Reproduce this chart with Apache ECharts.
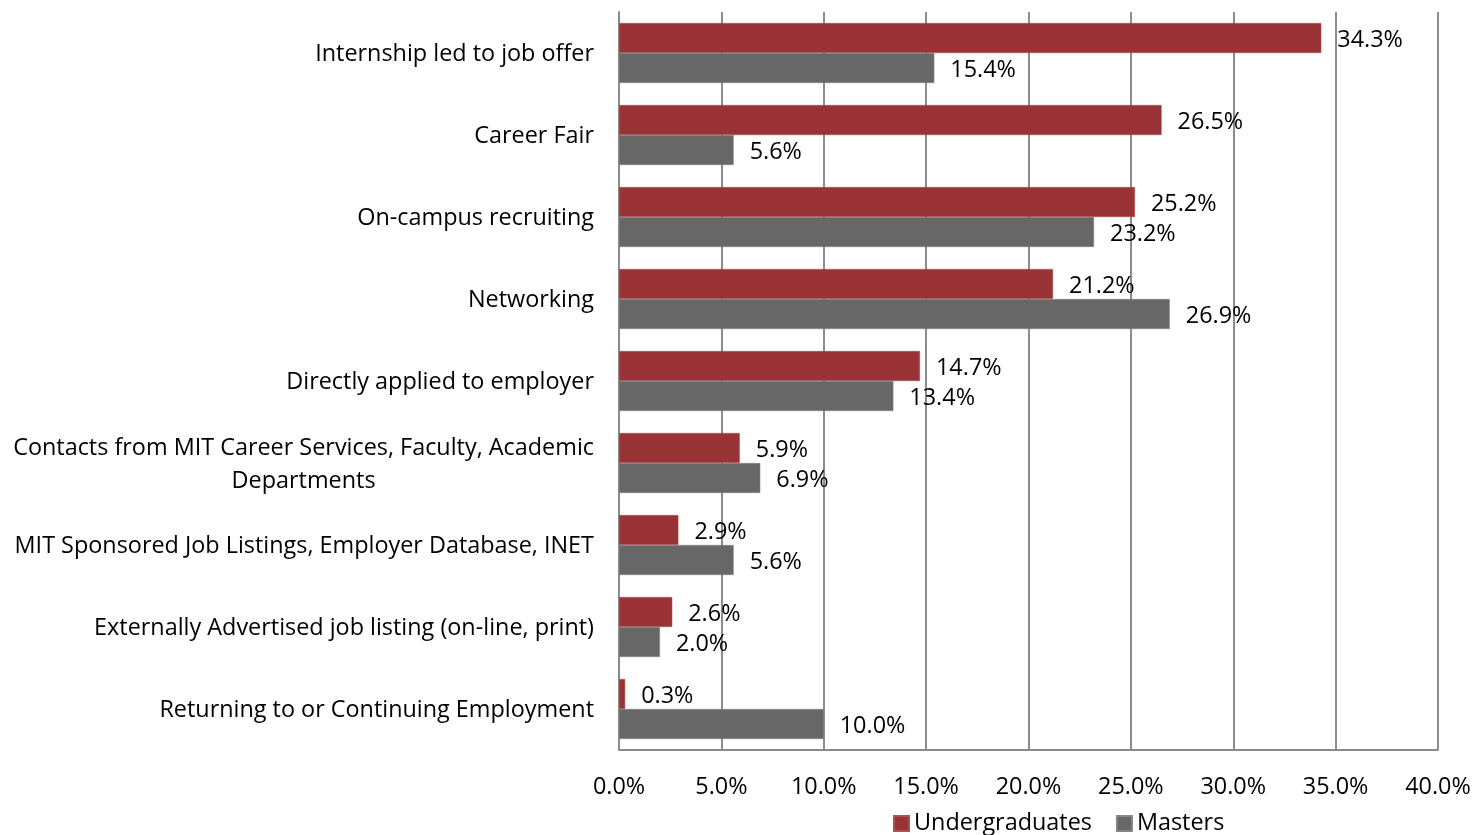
<!DOCTYPE html>
<html>
<head>
<meta charset="utf-8">
<script src="https://cdn.jsdelivr.net/npm/echarts@6/dist/echarts.min.js"></script>
<style>html,body{margin:0;padding:0;background:#fff}#c{width:1477px;height:835px}</style>
</head>
<body>
<div id="c"></div>
<script>
const categories = [
  'Internship led to job offer',
  'Career Fair',
  'On-campus recruiting',
  'Networking',
  'Directly applied to employer',
  'Contacts from MIT Career Services, Faculty, Academic Departments',
  'MIT Sponsored Job Listings, Employer Database, INET',
  'Externally Advertised job listing (on-line, print)',
  'Returning to or Continuing Employment'
];
const undergraduates = [34.3, 26.5, 25.2, 21.2, 14.7, 5.9, 2.9, 2.6, 0.3];
const masters = [15.4, 5.6, 23.2, 26.9, 13.4, 6.9, 5.6, 2.0, 10.0];
const seriesNames = ['Undergraduates', 'Masters'];

const FONT = 'Open Sans';
const FS = 23.4;
const chart = echarts.init(document.getElementById('c'));
const lbl = {
  show: true, position: 'right', distance: 16, offset: [0, 2],
  color: '#000', fontFamily: FONT, fontSize: FS,
  formatter: p => p.value.toFixed(1) + '%'
};
chart.setOption({
  animation: false,
  textStyle: { fontFamily: FONT },
  grid: { left: 619, right: 39, top: 12, bottom: 85, containLabel: false },
  legend: {
    data: seriesNames, left: 888, bottom: -5, itemWidth: 15, itemHeight: 15, itemGap: 24,
    icon: 'rect',
    textStyle: { fontFamily: FONT, fontSize: FS, color: '#000' }
  },
  xAxis: {
    type: 'value', min: 0, max: 40, interval: 5,
    axisLine: { show: true, lineStyle: { color: '#8c8c8c', width: 2 } },
    axisTick: { show: false },
    splitLine: { show: true, lineStyle: { color: '#8c8c8c', width: 2 } },
    axisLabel: { margin: 26, color: '#000', fontFamily: FONT, fontSize: FS, formatter: v => v.toFixed(1) + '%' }
  },
  yAxis: {
    type: 'category', data: categories, inverse: true,
    axisLine: { show: true, lineStyle: { color: '#8c8c8c', width: 2 } },
    axisTick: { show: false },
    axisLabel: {
      margin: 25, color: '#000', fontFamily: FONT, fontSize: FS, lineHeight: 33, padding: [3, 0, 0, 0],
      formatter: v => {
        if (v.length > 55) {
          const i = v.lastIndexOf(' ', 52);
          return '{c|' + v.slice(0, i) + '}\n{c|' + v.slice(i + 1) + '}';
        }
        return v;
      },
      rich: { c: { align: 'center', fontFamily: FONT, fontSize: FS, color: '#000', lineHeight: 33 } }
    }
  },
  series: [
    { name: seriesNames[0], type: 'bar', data: undergraduates, barWidth: 30, barGap: '0%',
      itemStyle: { color: '#993335', borderColor: '#a85455', borderWidth: 0.5 }, label: lbl },
    { name: seriesNames[1], type: 'bar', data: masters, barWidth: 30, barGap: '0%',
      itemStyle: { color: '#676767', borderColor: '#858585', borderWidth: 0.5 }, label: lbl }
  ]
});
</script>
</body>
</html>
